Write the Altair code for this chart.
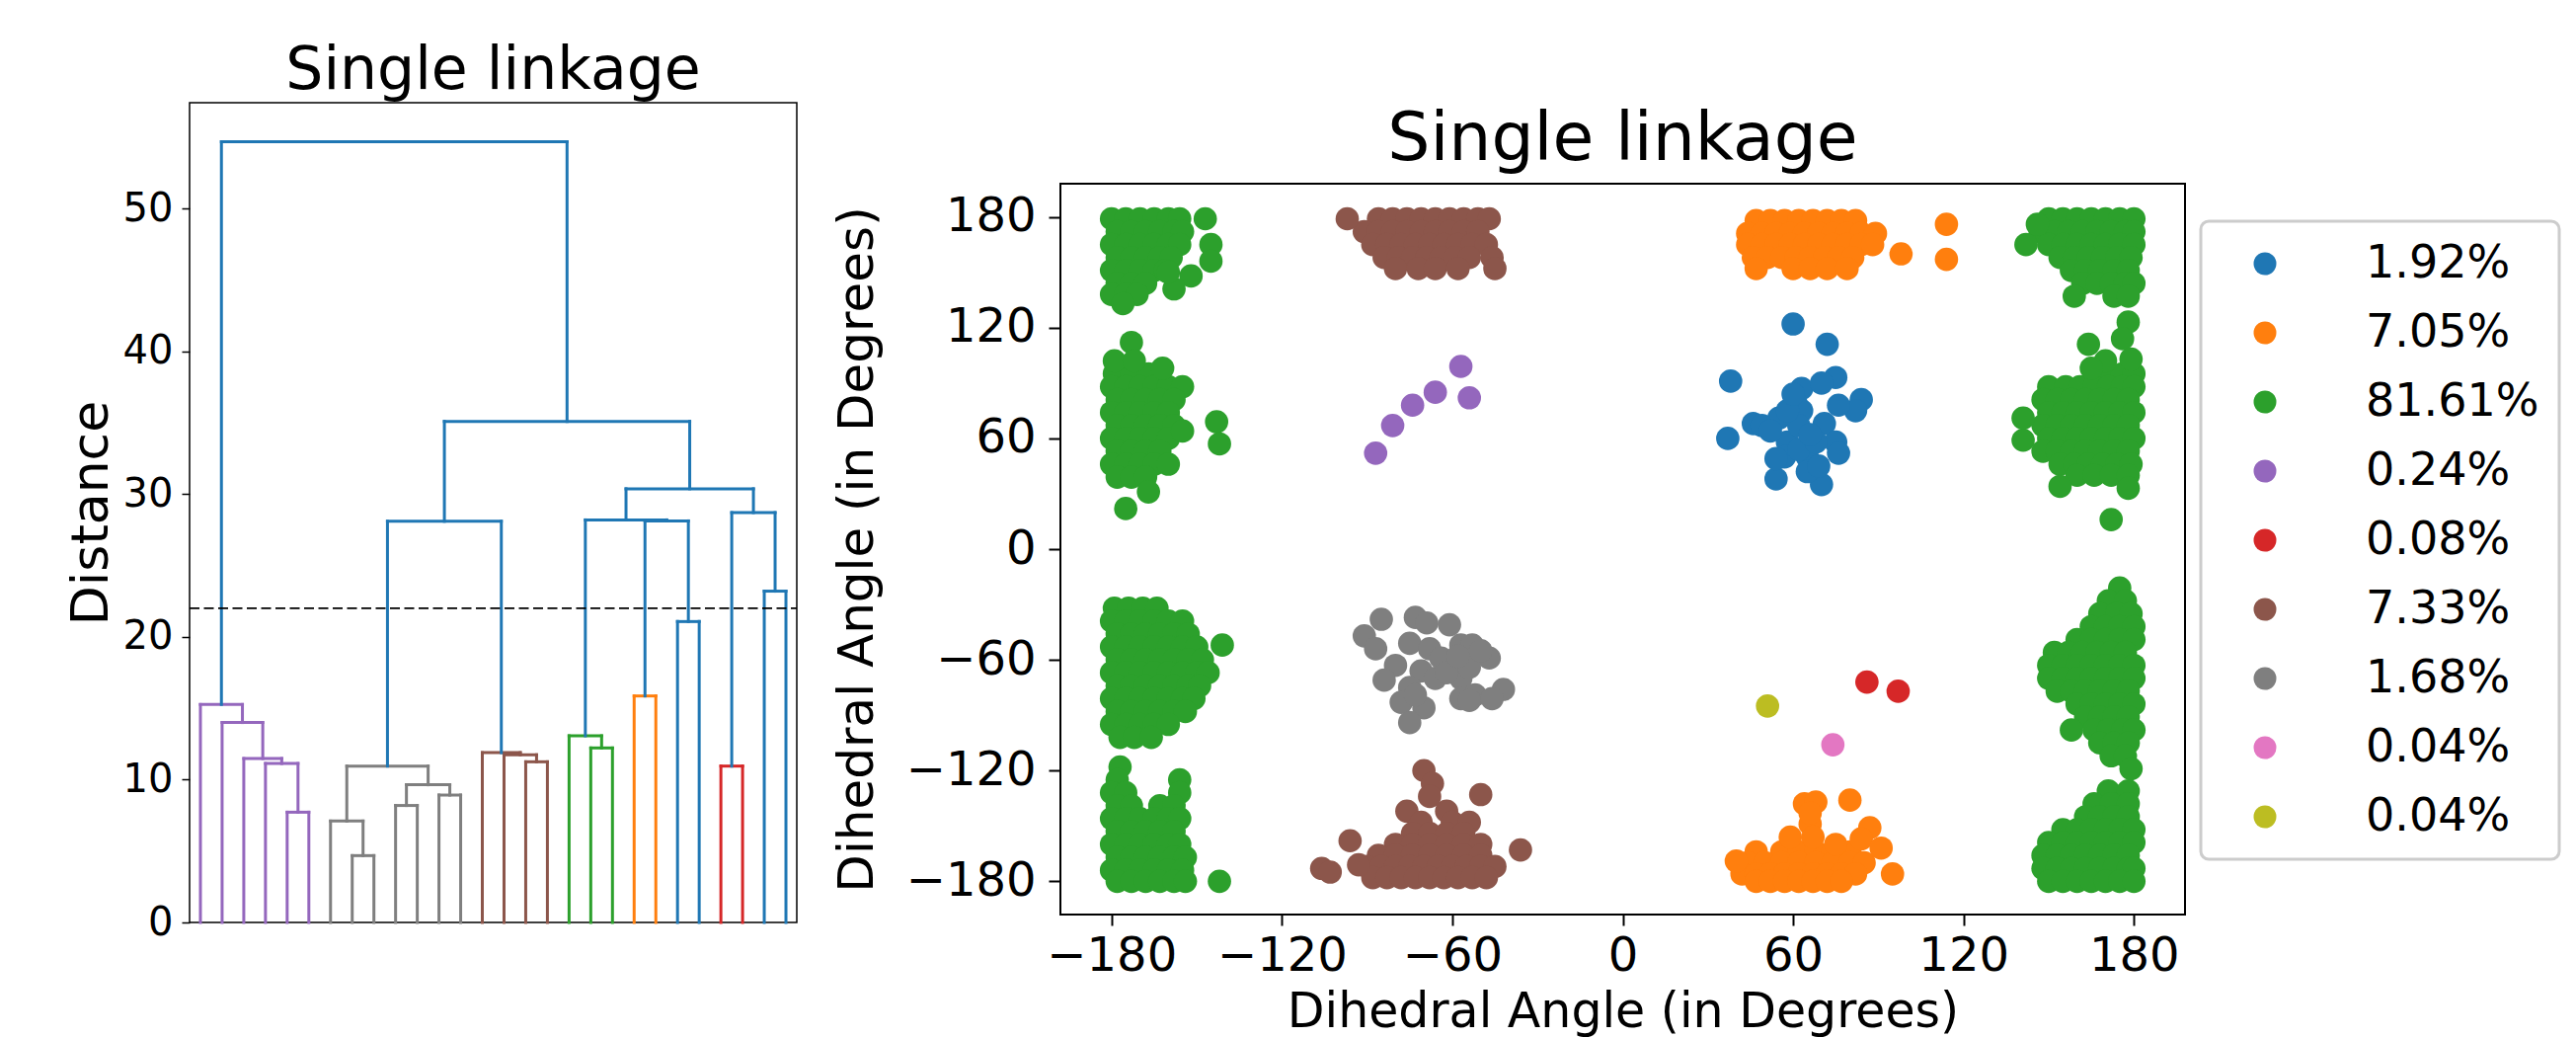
import altair as alt
import pandas as pd

FONT = "DejaVu Sans"

# ---------------- Dendrogram data (truncated single-linkage tree, 28 leaves) ----------------
N_LEAVES = 28
link_id = ["P1", "P2", "P3", "P4", "P5", "G1", "G2", "G3", "G4", "G5", "G6", "B1", "B2", "B3",
           "N1", "N2", "O1", "C1", "R1", "C2", "U1", "U2", "U3", "U4", "U5", "U6", "U7"]
link_left = ["L4", "L3", "L2", "L1", "L0", "L7", "L6", "L9", "L11", "G3", "G2", "L15", "L14", "L13",
             "L18", "L17", "L20", "L22", "L24", "L26", "G6", "O1", "N2", "R1", "U3", "U1", "P5"]
link_right = ["L5", "P1", "P2", "P3", "P4", "L8", "G1", "L10", "L12", "G4", "G5", "L16", "B1", "B2",
              "L19", "N1", "L21", "L23", "L25", "L27", "B3", "C1", "U2", "C2", "U4", "U5", "U6"]
link_height = [7.72, 11.13, 11.48, 14.00, 15.26, 4.68, 7.10, 8.19, 8.92, 9.64, 10.95, 11.25, 11.74, 11.89,
               12.22, 13.07, 15.86, 21.07, 10.95, 23.20, 28.09, 28.12, 28.19, 28.70, 30.37, 35.09, 54.67]
link_color = ["#9467bd"] * 5 + ["#7f7f7f"] * 6 + ["#8c564b"] * 3 + ["#2ca02c"] * 2 + \
             ["#ff7f0e", "#1f77b4", "#d62728", "#1f77b4"] + ["#1f77b4"] * 7
cut_height = 22.0
dendro_ticks = [0, 10, 20, 30, 40, 50]

# ---------------- Scatter data: (psi, [phi, ...]) rows for dense blobs, plus single points ----------------
blue_pts = [(60, 122), (72, 111), (38, 91), (37, 60), (54, 38), (70, 35), (75, 93), (84, 81), (82, 75),
            (63, 87), (70, 90), (46, 68), (49, 67), (55, 71), (61, 79), (63, 75), (71, 68), (76, 78),
            (58, 58), (57, 50), (65, 50), (75, 58), (76, 52), (65, 42), (69, 45), (62, 54), (54, 49),
            (68, 58), (62, 67), (58, 75), (66, 62), (60, 84), (52, 64)]
orange_rows = [(178, [47, 52, 57, 62, 67, 72, 77, 82]),
               (171, [44, 49, 54, 59, 64, 69, 74, 79, 84, 89]),
               (165, [44, 49, 54, 59, 64, 69, 74, 79, 84, 88]),
               (158, [46, 51, 56, 61, 66, 71, 76, 81]),
               (152, [47, 60, 66, 72, 79]),
               (-164, [47, 56, 62, 68, 74, 80]),
               (-170, [44, 50, 56, 62, 68, 74, 80, 85]),
               (-176, [42, 47, 52, 57, 62, 67, 72, 77, 82]),
               (-180, [47, 52, 57, 62, 67, 72, 77])]
orange_pts = [(98, 160), (114, 176), (114, 157),
              (80, -136), (64, -138), (68, -137), (87, -151), (66, -149), (59, -156), (84, -157),
              (91, -162), (40, -169), (95, -176), (66, -143), (67, -156), (75, -160)]
green_rows = [
    # left, psi ~ 180
    (179, [-180, -175, -170, -165, -160, -156]), (172, [-178, -173, -168, -163, -158, -155]),
    (165, [-180, -175, -170, -165, -160, -156]), (158, [-178, -173, -168, -163, -159]),
    (151, [-180, -175, -170, -165, -161]), (144, [-178, -173, -168]), (138, [-180, -175, -171]),
    # left, psi ~ 60
    (95, [-179, -173, -167]), (88, [-180, -175, -170, -165, -160, -155]),
    (81, [-178, -173, -168, -163, -158]), (74, [-180, -175, -170, -165, -160]),
    (67, [-178, -173, -168, -163, -158]), (60, [-180, -175, -170, -165, -160]),
    (53, [-178, -173, -168, -163]), (46, [-180, -175, -170, -165, -160]), (39, [-178, -173, -168]),
    # left, psi ~ -60
    (-32, [-179, -174, -169, -164]), (-39, [-180, -175, -170, -165, -160, -155]),
    (-46, [-178, -173, -168, -163, -158, -153]), (-53, [-180, -175, -170, -165, -160, -155, -150]),
    (-60, [-178, -173, -168, -163, -158, -153, -148]), (-67, [-180, -175, -170, -165, -160, -155, -150, -146]),
    (-74, [-178, -173, -168, -163, -158, -153, -149]), (-81, [-180, -175, -170, -165, -160, -155, -151]),
    (-88, [-178, -173, -168, -163, -158, -154]), (-95, [-180, -175, -170, -165, -160]),
    (-102, [-177, -172, -166]),
    # left, psi ~ -180
    (-118, [-177]), (-125, [-178, -156]), (-132, [-180, -175, -156]), (-139, [-178, -173, -163, -158]),
    (-146, [-180, -175, -170, -165, -160, -156]), (-153, [-178, -173, -168, -163, -158]),
    (-160, [-180, -175, -170, -165, -160, -156]), (-167, [-178, -173, -168, -163, -158, -154]),
    (-174, [-180, -175, -170, -165, -160, -155]), (-180, [-178, -173, -168, -163, -158, -154]),
    # right, psi ~ 180
    (179, [150, 155, 160, 165, 170, 175, 180]), (172, [147, 152, 157, 162, 167, 172, 177, 180]),
    (165, [142, 150, 155, 160, 165, 170, 175, 180]), (158, [154, 159, 164, 169, 174, 179]),
    (151, [158, 163, 168, 173, 178]), (144, [162, 167, 172, 177, 180]), (137, [159, 173, 178]),
    # right, psi ~ 60
    (95, [166, 171, 176, 180]), (88, [150, 156, 161, 166, 171, 176, 180]),
    (81, [148, 153, 158, 163, 168, 173, 178]), (74, [150, 155, 160, 165, 170, 175, 180]),
    (67, [148, 153, 158, 163, 168, 173, 178]), (60, [150, 155, 160, 165, 170, 175, 180]),
    (53, [148, 153, 158, 163, 168, 173, 178]), (46, [154, 159, 164, 169, 174, 179]),
    (40, [160, 166, 172, 178]),
    # right, psi ~ -60
    (-21, [175]), (-28, [171, 177]), (-35, [168, 174, 179]), (-42, [165, 170, 175, 180]),
    (-49, [160, 165, 170, 175, 180]), (-56, [152, 157, 162, 167, 172, 177]),
    (-63, [150, 155, 160, 165, 170, 175, 180]), (-70, [150, 155, 160, 165, 170, 175, 180]),
    (-77, [153, 158, 163, 168, 173, 178]), (-84, [160, 165, 170, 175, 180]),
    (-91, [163, 168, 173, 178]), (-98, [158, 166, 171, 176, 180]), (-105, [168, 173, 178]),
    (-112, [172, 177]), (-119, [179]),
    # right, psi ~ -180
    (-131, [171, 178]), (-138, [166, 172, 178]), (-145, [163, 168, 173, 178]),
    (-152, [155, 160, 165, 170, 175, 180]), (-159, [150, 155, 160, 165, 170, 175, 180]),
    (-166, [148, 153, 158, 163, 168, 173, 178]), (-173, [148, 153, 158, 163, 168, 173, 178, 180]),
    (-180, [150, 155, 160, 165, 170, 175, 180])]
green_pts = [(-147, 179), (-145, 165), (-145, 156), (-152, 148), (-158, 141), (-176, 133), (-160, 150),
             (-173, 112), (-179, 102), (-172, 102), (-162, 98), (-143, 69), (-142, 57), (-155, 64),
             (-167, 31), (-175, 22), (-141, -52), (-142, -180),
             (146, 176), (141, 71), (141, 59), (154, 34), (172, 16), (178, 123), (176, 114), (179, 103),
             (170, 102), (165, 98), (164, 111), (178, 33)]
purple_pts = [(-87, 52), (-81, 67), (-74, 78), (-66, 85), (-57, 99), (-54, 82)]
red_pts = [(86, -72), (97, -77)]
brown_rows = [(179, [-86, -81, -76, -71, -66, -61, -56, -51, -47]),
              (172, [-91, -86, -81, -76, -71, -66, -61, -56, -51]),
              (165, [-88, -83, -78, -73, -68, -63, -58, -53, -48]),
              (158, [-84, -79, -74, -69, -64, -59, -54, -46]),
              (152, [-80, -72, -66, -58, -45]),
              (-142, [-76, -62]), (-148, [-71, -60, -54]), (-154, [-74, -68, -62, -56]),
              (-160, [-80, -74, -68, -62, -56, -50]), (-166, [-86, -80, -74, -68, -62, -56, -50]),
              (-172, [-90, -85, -80, -75, -70, -65, -60, -55, -50, -45]),
              (-178, [-88, -83, -78, -73, -68, -63, -58, -53, -48])]
brown_pts = [(-97, 179), (-70, -120), (-67, -127), (-68, -134), (-50, -133), (-96, -158), (-36, -163),
             (-106, -173), (-93, -171), (-103, -175)]
gray_pts = [(-85, -38), (-91, -47), (-73, -37), (-69, -40), (-61, -41), (-87, -54), (-75, -51), (-68, -54),
            (-57, -52), (-53, -52), (-47, -59), (-80, -63), (-71, -66), (-84, -71), (-66, -70), (-57, -70),
            (-75, -75), (-42, -76), (-57, -81), (-52, -79), (-46, -81), (-78, -83), (-70, -86), (-54, -82),
            (-75, -94), (-73, -79), (-60, -62), (-54, -64), (-64, -59), (-62, -67), (-58, -58), (-50, -55)]
pink_pts = [(74, -106)]
olive_pts = [(51, -85)]

cluster_rows = [[], orange_rows, green_rows, [], [], brown_rows, [], [], []]
cluster_points = [blue_pts, orange_pts, green_pts, purple_pts, red_pts, brown_pts, gray_pts, pink_pts, olive_pts]
cluster_labels = ["1.92%", "7.05%", "81.61%", "0.24%", "0.08%", "7.33%", "1.68%", "0.04%", "0.04%"]
cluster_colors = ["#1f77b4", "#ff7f0e", "#2ca02c", "#9467bd", "#d62728", "#8c564b", "#7f7f7f", "#e377c2", "#bcbd22"]
angle_ticks = [-180, -120, -60, 0, 60, 120, 180]

# ---------------- build dendrogram segments ----------------
pos = {f"L{i}": 5 + 10 * i for i in range(N_LEAVES)}
hgt = {f"L{i}": 0.0 for i in range(N_LEAVES)}
segs = []
for lid, l, r, h, c in zip(link_id, link_left, link_right, link_height, link_color):
    xl, xr = pos[l], pos[r]
    segs.append(dict(x0=xl, x1=xl, y0=hgt[l], y1=h, color=c))
    segs.append(dict(x0=xl, x1=xr, y0=h, y1=h, color=c))
    segs.append(dict(x0=xr, x1=xr, y0=hgt[r], y1=h, color=c))
    pos[lid] = (xl + xr) / 2
    hgt[lid] = h
seg_df = pd.DataFrame(segs)
ymax = max(link_height) * 1.05

DW, DH = 615, 830
SW, SH = 1139, 740
sp = pd.DataFrame({"a": [0]})


def spacer(x, y):
    return alt.Chart(sp).mark_point(size=1, opacity=0, filled=True).encode(x=alt.value(x), y=alt.value(y))


links = alt.Chart(seg_df).mark_rule(strokeWidth=3, strokeCap="square").encode(
    x=alt.X("x0:Q", scale=alt.Scale(domain=[0, 10 * N_LEAVES], nice=False, zero=False), axis=None),
    x2="x1:Q",
    y=alt.Y("y0:Q", scale=alt.Scale(domain=[0, ymax], nice=False, zero=True),
            axis=alt.Axis(values=dendro_ticks, title="Distance", titleFontSize=52, titleFontWeight="normal",
                          titleFont=FONT, labelFont=FONT,
                          labelFontSize=40, tickSize=8, tickWidth=1.5, tickColor="black", labelColor="black",
                          titleColor="black", domain=False, grid=False, labelPadding=9, titlePadding=5)),
    y2="y1:Q",
    color=alt.Color("color:N", scale=None),
)
cut = alt.Chart(pd.DataFrame({"h": [cut_height]})).mark_rule(
    color="black", strokeWidth=1.6, strokeDash=[10, 4.5]).encode(
    y="h:Q", x=alt.value(0), x2=alt.value(DW))

dendro = alt.layer(links, cut, spacer(-182, -94), spacer(630, 0)).properties(
    width=DW, height=DH,
    title=alt.TitleParams("Single linkage", fontSize=60, font=FONT, fontWeight="normal", anchor="middle",
                          frame="group", baseline="alphabetic", offset=-140, color="black"),
    view=alt.ViewBackground(stroke="black", strokeWidth=1.5),
)

# ---------------- scatter ----------------
rows = []
for k in range(len(cluster_labels)):
    for psi, phis in cluster_rows[k]:
        for phi in phis:
            rows.append(dict(phi=phi, psi=psi, cluster=str(k)))
    for phi, psi in cluster_points[k]:
        rows.append(dict(phi=phi, psi=psi, cluster=str(k)))
sc_df = pd.DataFrame(rows)
label_expr = "[" + ",".join(f"'{s}'" for s in cluster_labels) + "][toNumber(datum.value)]"

axis_common = dict(values=angle_ticks, format="d", title="Dihedral Angle (in Degrees)",
                   titleFontWeight="normal", titleFont=FONT, labelFont=FONT,
                   labelFontSize=48, tickWidth=2, tickColor="black", labelColor="black",
                   titleColor="black", domain=False, grid=False, labelFlush=False, labelOverlap=False)

points = alt.Chart(sc_df).mark_circle(size=560, opacity=1).encode(
    x=alt.X("phi:Q", scale=alt.Scale(domain=[-198, 198], nice=False, zero=False),
            axis=alt.Axis(tickSize=11, labelPadding=7, titlePadding=8, titleFontSize=49, **axis_common)),
    y=alt.Y("psi:Q", scale=alt.Scale(domain=[-198, 198], nice=False, zero=False),
            axis=alt.Axis(tickSize=12, labelPadding=13, titlePadding=24, titleFontSize=50, **axis_common)),
    color=alt.Color("cluster:N",
                    scale=alt.Scale(domain=[str(k) for k in range(len(cluster_labels))], range=cluster_colors),
                    legend=alt.Legend(title=None, orient="none", legendX=1155, legendY=120, padding=20,
                                      symbolType="circle", symbolSize=529, symbolOffset=22, labelOffset=79,
                                      labelFontSize=46, labelFont=FONT, labelColor="black", rowPadding=24,
                                      labelLimit=400, strokeColor="#cccccc", fillColor="white",
                                      cornerRadius=8, labelExpr=label_expr, symbolStrokeWidth=0)),
)

scatter = alt.layer(points, spacer(-248, -77)).properties(
    width=SW, height=SH,
    title=alt.TitleParams("Single linkage", fontSize=68, font=FONT, fontWeight="normal", anchor="middle",
                          frame="group", baseline="alphabetic", offset=-121, color="black"),
    view=alt.ViewBackground(stroke="black", strokeWidth=2),
)

top_gap = alt.Chart(sp).mark_point(size=1, opacity=0, filled=True).encode(
    x=alt.value(0), y=alt.value(0)).properties(width=SW, height=1,
                                                view=alt.ViewBackground(stroke="transparent"))

right_col = alt.vconcat(top_gap, scatter, spacing=0)

chart = alt.hconcat(dendro, right_col, spacing=0).resolve_scale(color="independent").properties(
    padding=0, background="white"
).configure_axis(labelFont=FONT, titleFont=FONT).configure_legend(strokeWidth=3)

chart.save("out.html", embed_options={"renderer": "svg", "actions": False})
